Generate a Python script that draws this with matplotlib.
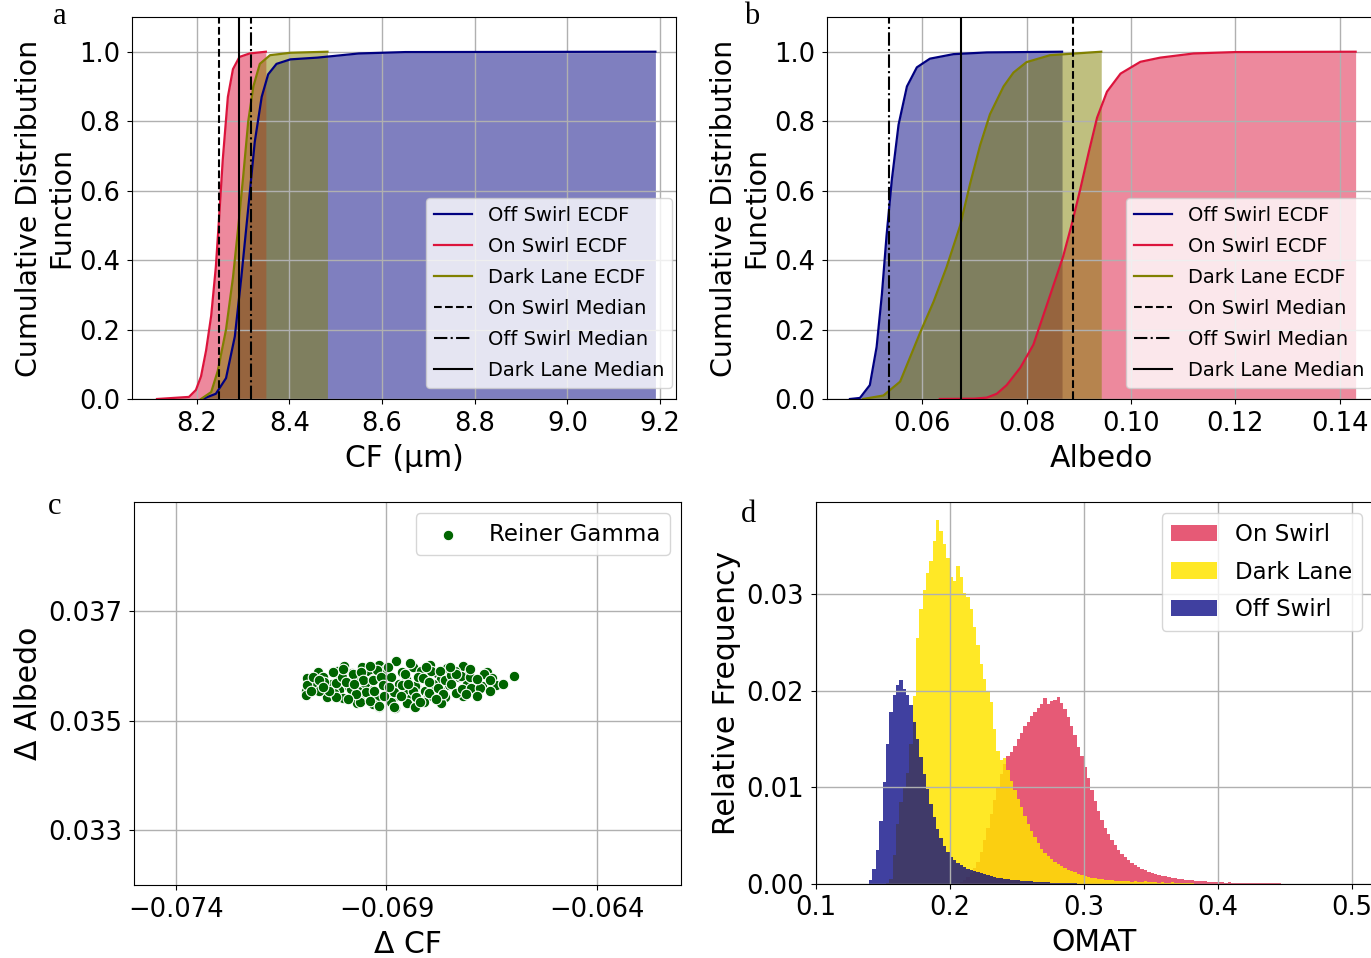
import matplotlib.pyplot as plt
import numpy as np

plt.rcParams['font.family'] = 'DejaVu Sans'

# --- a: ECDF of CF (um) ---
off_cf_x = [8.212, 8.241, 8.263, 8.282, 8.296, 8.311, 8.325, 8.340, 8.354, 8.372, 8.402, 8.460, 8.55, 8.65, 9.19]
off_cf_y = [0.0, 0.015, 0.06, 0.18, 0.35, 0.55, 0.74, 0.87, 0.935, 0.965, 0.978, 0.983, 0.995, 0.999, 1.0]
on_cf_x = [8.114, 8.183, 8.198, 8.209, 8.220, 8.231, 8.241, 8.247, 8.256, 8.267, 8.278, 8.292, 8.314, 8.349]
on_cf_y = [0.0, 0.006, 0.026, 0.065, 0.14, 0.24, 0.38, 0.50, 0.69, 0.87, 0.95, 0.985, 0.995, 1.0]
dark_cf_x = [8.209, 8.231, 8.245, 8.263, 8.278, 8.289, 8.300, 8.311, 8.322, 8.336, 8.358, 8.402, 8.482]
dark_cf_y = [0.0, 0.02, 0.08, 0.2, 0.35, 0.49, 0.64, 0.80, 0.90, 0.965, 0.99, 0.997, 1.0]
cf_medians = {'on': 8.247, 'off': 8.316, 'dark': 8.290}

# --- b: ECDF of albedo ---
off_alb_x = [0.0462, 0.0481, 0.0500, 0.0513, 0.0523, 0.0532, 0.0542, 0.0555, 0.0571, 0.0590, 0.0615, 0.0660, 0.0724, 0.0868]
off_alb_y = [0.0, 0.003, 0.04, 0.15, 0.30, 0.47, 0.63, 0.79, 0.90, 0.955, 0.98, 0.993, 0.998, 1.0]
on_alb_x = [0.0634, 0.0700, 0.0724, 0.0743, 0.0762, 0.0788, 0.0813, 0.0832, 0.0851, 0.0870, 0.0886, 0.0903,
            0.0919, 0.0935, 0.0954, 0.0980, 0.1018, 0.1056, 0.1120, 0.1200, 0.1430]
on_alb_y = [0.0, 0.001, 0.004, 0.015, 0.04, 0.09, 0.156, 0.24, 0.325, 0.41, 0.50, 0.605,
            0.71, 0.81, 0.885, 0.937, 0.971, 0.983, 0.995, 0.999, 1.0]
dark_alb_x = [0.0487, 0.0526, 0.0558, 0.0577, 0.0596, 0.0622, 0.0647, 0.0673, 0.0692, 0.0711, 0.0730, 0.0756,
              0.0775, 0.0800, 0.0845, 0.0943]
dark_alb_y = [0.0, 0.01, 0.05, 0.12, 0.19, 0.28, 0.38, 0.50, 0.62, 0.73, 0.82, 0.90, 0.94, 0.97, 0.99, 1.0]
alb_medians = {'on': 0.0888, 'off': 0.0536, 'dark': 0.0674}

# --- c: Reiner Gamma delta CF vs delta albedo ---
# points lying underneath in the dense core of the cloud
rg_dcf_core = [-0.07002, -0.06958, -0.06918, -0.06838, -0.06797, -0.06757, -0.06718,
               -0.07063, -0.07018, -0.06983, -0.06941, -0.06902, -0.06862, -0.06818, -0.06781, -0.06738, -0.06703, -0.06661,
               -0.07088, -0.07052, -0.07011, -0.06968, -0.06932, -0.06889, -0.06853, -0.06809, -0.06771, -0.06728, -0.06692, -0.06648,
               -0.07071, -0.07029, -0.06991, -0.06952, -0.06908, -0.06871, -0.06829, -0.06789, -0.06752, -0.06709, -0.06672,
               -0.07092, -0.07048, -0.07012, -0.06968, -0.06931, -0.06889, -0.06851, -0.06808, -0.06772, -0.06731, -0.06690,
               -0.07041, -0.07003, -0.06962, -0.06921, -0.06878, -0.06842, -0.06801, -0.06762, -0.06719,
               -0.06971, -0.06932, -0.06889, -0.06852, -0.06811, -0.06770,
               -0.06918, -0.06879, -0.06832]
rg_dalb_core = [0.03601, 0.03598, 0.03603, 0.03599, 0.03602, 0.03597, 0.03600,
                0.03590, 0.03592, 0.03588, 0.03591, 0.03594, 0.03589, 0.03592, 0.03587, 0.03591, 0.03588, 0.03590,
                0.03578, 0.03580, 0.03576, 0.03579, 0.03577, 0.03581, 0.03576, 0.03579, 0.03577, 0.03580, 0.03576, 0.03579,
                0.03566, 0.03568, 0.03564, 0.03567, 0.03565, 0.03568, 0.03564, 0.03567, 0.03565, 0.03568, 0.03564,
                0.03555, 0.03553, 0.03556, 0.03554, 0.03557, 0.03553, 0.03556, 0.03554, 0.03557, 0.03553, 0.03555,
                0.03544, 0.03542, 0.03545, 0.03543, 0.03546, 0.03542, 0.03545, 0.03543, 0.03546,
                0.03533, 0.03531, 0.03534, 0.03532, 0.03535, 0.03532,
                0.03525, 0.03523, 0.03526]
rg_dcf = [-0.07090, -0.07091, -0.07075, -0.07061, -0.07048, -0.07024, -0.07020, -0.07006, -0.06984, -0.06980,
          -0.06964, -0.06960, -0.06955, -0.06948, -0.06933, -0.06929, -0.06923, -0.06913, -0.06909, -0.06905,
          -0.06889, -0.06881, -0.06877, -0.06863, -0.06857, -0.06845, -0.06831, -0.06825, -0.06812, -0.06799,
          -0.06794, -0.06778, -0.06772, -0.06762, -0.06746, -0.06746, -0.06734, -0.06722, -0.06720, -0.06702,
          -0.06698, -0.06678, -0.06668, -0.06639, -0.06598, -0.06734, -0.06710, -0.06766, -0.06806, -0.06837,
          -0.06972, -0.06992, -0.07020, -0.07036, -0.06940, -0.06917, -0.06782, -0.06829, -0.06686, -0.06655,
          -0.06623, -0.07060, -0.07079, -0.06996, -0.06897, -0.06940, -0.06865, -0.06750, -0.06686, -0.06655,
          -0.07004, -0.07028, -0.06849, -0.06798, -0.06893, -0.06976, -0.06702, -0.06821, -0.06881, -0.07052]
rg_dalb = [0.03565, 0.03548, 0.03580, 0.03554, 0.03571, 0.03551, 0.03569, 0.03581, 0.03558, 0.03586,
           0.03535, 0.03589, 0.03574, 0.03552, 0.03574, 0.03554, 0.03593, 0.03581, 0.03565, 0.03546,
           0.03580, 0.03552, 0.03609, 0.03565, 0.03586, 0.03605, 0.03563, 0.03580, 0.03579, 0.03551,
           0.03592, 0.03560, 0.03591, 0.03575, 0.03583, 0.03568, 0.03551, 0.03582, 0.03558, 0.03581,
           0.03560, 0.03560, 0.03586, 0.03565, 0.03582, 0.03586, 0.03549, 0.03549, 0.03598, 0.03555,
           0.03549, 0.03540, 0.03543, 0.03555, 0.03537, 0.03528, 0.03540, 0.03543, 0.03546, 0.03574,
           0.03568, 0.03574, 0.03555, 0.03571, 0.03598, 0.03601, 0.03546, 0.03598, 0.03577, 0.03555,
           0.03595, 0.03589, 0.03568, 0.03571, 0.03562, 0.03568, 0.03595, 0.03534, 0.03525, 0.03562]

# --- d: OMAT relative frequency histograms ---
bin_w = 0.0025
on_omat_start = 0.2075
on_omat_freq = [0.0002, 0.0004, 0.0007, 0.0011, 0.0016, 0.0022, 0.0033, 0.0045, 0.0058, 0.0072, 0.0087, 0.0100,
                0.0114, 0.0124, 0.0132, 0.0137, 0.0143, 0.0150, 0.0156, 0.0163, 0.0168, 0.0174, 0.0178, 0.0182,
                0.0186, 0.0193, 0.0186, 0.0189, 0.0190, 0.0194, 0.0187, 0.0181, 0.0173, 0.0164, 0.0154, 0.0142,
                0.0132, 0.0121, 0.0109, 0.0097, 0.0086, 0.0075, 0.0066, 0.0058, 0.0051, 0.0045, 0.0040, 0.0035,
                0.0031, 0.0027, 0.0024, 0.0021, 0.0019, 0.0017, 0.0015, 0.0014, 0.0012, 0.0011, 0.0010, 0.0009,
                0.0008, 0.0008, 0.0007, 0.0006, 0.0006, 0.0005, 0.0005, 0.0004, 0.0004, 0.0004, 0.0003, 0.0003,
                0.0003, 0.0003, 0.0002, 0.0002, 0.0002, 0.0002, 0.0002, 0.0001, 0.0002, 0.0001, 0.0001, 0.0001,
                0.0001, 0.0001, 0.0001, 0.0001, 0.0001, 0.0001, 0.00005, 0.00005, 0.00005, 0.00003, 0.00003, 0.00002]
dark_omat_start = 0.1500
dark_omat_freq = [0.0000, 0.0001, 0.0005, 0.0030, 0.0062, 0.0085, 0.0100, 0.0115, 0.0145, 0.0195, 0.0255, 0.0285,
                  0.0305, 0.0322, 0.0335, 0.0355, 0.0377, 0.0366, 0.0352, 0.0338, 0.0318, 0.0314, 0.0330, 0.0318,
                  0.0302, 0.0297, 0.0285, 0.0266, 0.0248, 0.0228, 0.0212, 0.0200, 0.0188, 0.0160, 0.0138, 0.0128,
                  0.0130, 0.0118, 0.0106, 0.0097, 0.0088, 0.0079, 0.0070, 0.0062, 0.0055, 0.0048, 0.0042, 0.0036,
                  0.0032, 0.0029, 0.0025, 0.0022, 0.0020, 0.0018, 0.0016, 0.0014, 0.0013, 0.0012, 0.0010, 0.0009,
                  0.0008, 0.0007, 0.0006, 0.0006, 0.0005, 0.0005, 0.0004, 0.0004, 0.0004, 0.0003, 0.0003, 0.0003,
                  0.0003, 0.0003, 0.0002, 0.0003, 0.0002, 0.0002, 0.0003, 0.0002, 0.0002, 0.0002, 0.0001, 0.0002,
                  0.0001, 0.0001, 0.0002, 0.0001, 0.0001, 0.0001, 0.0001, 0.0001, 0.0001]
off_omat_start = 0.1375
off_omat_freq = [0.0000, 0.0004, 0.0015, 0.0035, 0.0065, 0.0105, 0.0145, 0.0178, 0.0196, 0.0206, 0.0211, 0.0202,
                 0.0196, 0.0185, 0.0168, 0.0150, 0.0131, 0.0114, 0.0098, 0.0083, 0.0069, 0.0057, 0.0047, 0.0039,
                 0.0033, 0.0028, 0.0024, 0.0021, 0.0019, 0.0017, 0.0015, 0.0014, 0.0013, 0.0012, 0.0011, 0.0010,
                 0.0009, 0.0008, 0.0007, 0.0006, 0.0006, 0.0005, 0.0005, 0.0004, 0.0004, 0.0004, 0.0003, 0.0003,
                 0.0003, 0.0003, 0.0002, 0.0002, 0.0002, 0.0002, 0.0002, 0.0001, 0.0001, 0.0001, 0.0001, 0.0001,
                 0.0001, 0.0001, 0.0001]

W, H = 1371, 958
TICK_FS = 18.5
LABEL_FS = 21.5


def rect(l, t, r, b):
    # pixel box -> figure fraction
    return [l / W, 1 - b / H, (r - l) / W, (b - t) / H]


def style(ax):
    ax.grid(True, color='#b0b0b0', lw=1.0)
    ax.tick_params(labelsize=TICK_FS, pad=5)


def ecdf_panel(ax, off, on, dark, med):
    ax.fill_between(off[0], 0, off[1], color='navy', alpha=0.5, lw=0)
    ax.plot(off[0], off[1], color='navy', lw=1.6, label='Off Swirl ECDF')
    ax.fill_between(on[0], 0, on[1], color='crimson', alpha=0.5, lw=0)
    ax.plot(on[0], on[1], color='crimson', lw=1.6, label='On Swirl ECDF')
    ax.fill_between(dark[0], 0, dark[1], color='olive', alpha=0.5, lw=0)
    ax.plot(dark[0], dark[1], color='olive', lw=1.6, label='Dark Lane ECDF')
    ax.axvline(med['on'], color='black', ls='--', lw=1.5, label='On Swirl Median')
    ax.axvline(med['off'], color='black', ls='-.', lw=1.5, label='Off Swirl Median')
    ax.axvline(med['dark'], color='black', ls='-', lw=1.5, label='Dark Lane Median')
    ax.set_ylim(0, 1.1)
    ax.set_yticks(np.arange(0, 1.01, 0.2))
    ax.set_ylabel('Cumulative Distribution\nFunction', fontsize=20.5, labelpad=3)
    ax.legend(loc='lower right', bbox_to_anchor=(0.993, 0.029), borderaxespad=0,
              fontsize=14, labelspacing=0.62)
    style(ax)


fig = plt.figure(figsize=(W / 100, H / 100), dpi=100)

ax_a = fig.add_axes(rect(132, 17, 676, 399))
ecdf_panel(ax_a, (off_cf_x, off_cf_y), (on_cf_x, on_cf_y), (dark_cf_x, dark_cf_y), cf_medians)
ax_a.set_xlim(8.06, 9.2345)
ax_a.set_xticks(np.arange(8.2, 9.21, 0.2))
ax_a.set_xlabel('CF (μm)', fontsize=LABEL_FS, labelpad=5)

ax_b = fig.add_axes(rect(827, 17, 1376, 399))
ecdf_panel(ax_b, (off_alb_x, off_alb_y), (on_alb_x, on_alb_y), (dark_alb_x, dark_alb_y), alb_medians)
ax_b.set_xlim(0.0418, 0.1469)
ax_b.set_xticks([0.06, 0.08, 0.10, 0.12, 0.14])
ax_b.set_xlabel('Albedo', fontsize=LABEL_FS, labelpad=5)

ax_c = fig.add_axes(rect(134, 502, 681, 885))
ax_c.scatter(rg_dcf_core + rg_dcf, rg_dalb_core + rg_dalb, s=58, color='darkgreen',
             edgecolor='white', linewidth=0.8, label='Reiner Gamma')
ax_c.set_xlim(-0.0750, -0.0620)
ax_c.set_ylim(0.0320, 0.0390)
ax_c.set_xticks([-0.074, -0.069, -0.064])
ax_c.set_yticks([0.033, 0.035, 0.037])
ax_c.set_xlabel('Δ CF', fontsize=LABEL_FS, labelpad=5)
ax_c.set_ylabel('Δ Albedo', fontsize=LABEL_FS)
ax_c.legend(loc='upper right', fontsize=16.5)
style(ax_c)

ax_d = fig.add_axes(rect(815.5, 502, 1373, 883.5))
for start, freq, color, alpha, label in [
        (on_omat_start, on_omat_freq, 'crimson', 0.7, 'On Swirl'),
        (dark_omat_start, dark_omat_freq, '#ffe400', 0.85, 'Dark Lane'),
        (off_omat_start, off_omat_freq, 'navy', 0.75, 'Off Swirl')]:
    edges = start + bin_w * np.arange(len(freq) + 1)
    ax_d.stairs(freq, edges, fill=True, color=color, alpha=alpha, lw=0, label=label)
ax_d.set_xlim(0.1, 0.516)
ax_d.set_ylim(0, 0.0396)
ax_d.set_xticks([0.1, 0.2, 0.3, 0.4, 0.5])
ax_d.set_yticks([0.0, 0.01, 0.02, 0.03])
ax_d.set_xlabel('OMAT', fontsize=LABEL_FS, labelpad=5)
ax_d.set_ylabel('Relative Frequency', fontsize=LABEL_FS)
ax_d.legend(loc='upper right', fontsize=16.5, labelspacing=0.65)
style(ax_d)

# panel letters
for x, y, s in [(60, 16, 'a'), (752, 17, 'b'), (55, 507, 'c'), (748, 515, 'd')]:
    fig.text(x / W, 1 - y / H, s, family='Liberation Serif', fontsize=22, ha='center', va='center')

fig.savefig('out.png', dpi=100)
